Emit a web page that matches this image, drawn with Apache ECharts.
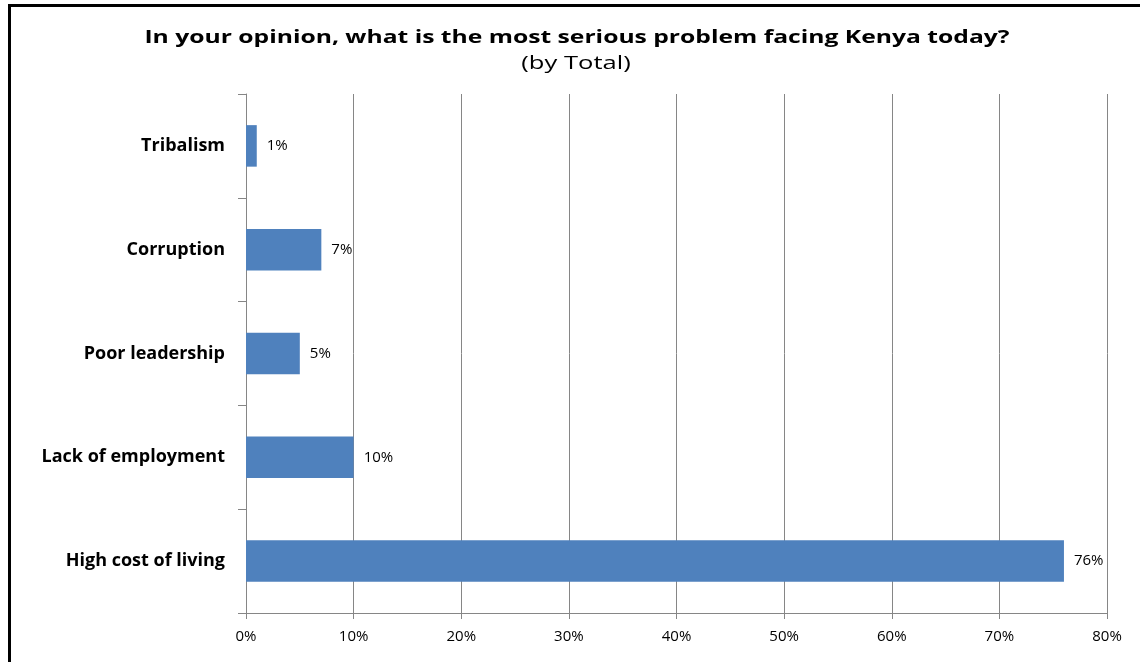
<!DOCTYPE html>
<html>
<head>
<meta charset="utf-8">
<script src="https://cdn.jsdelivr.net/npm/echarts@6/dist/echarts.min.js"></script>
<style>
  html, body { margin: 0; padding: 0; background: #fff; }
  #frame { position: absolute; left: 8px; top: 4px; width: 1140px; height: 670px;
           border-left: 3px solid #000; border-top: 3px solid #000; }
  #chart { position: absolute; left: 0; top: 0; width: 1140px; height: 662px; }
</style>
</head>
<body>
<div id="chart"></div>
<div id="frame"></div>
<script>
// Survey responses, listed bottom to top as drawn on the category axis
const categories = ['High cost of living', 'Lack of employment', 'Poor leadership', 'Corruption', 'Tribalism'];
const shares = [76, 10, 5, 7, 1];
const xTicks = [0, 10, 20, 30, 40, 50, 60, 70, 80];
const titleText = 'In your opinion, what is the most serious problem facing Kenya today?';
const subtitleText = '(by Total)';

const chart = echarts.init(document.getElementById('chart'));
const font = '"Open Sans", "Liberation Sans", sans-serif';

chart.setOption({
  animation: false,
  // Heading drawn as wide, horizontally stretched text
  graphic: [
    {
      type: 'text', x: 577, y: 38, scaleX: 1.37,
      style: { text: titleText, font: 'bold 18px ' + font, fill: '#000',
               textAlign: 'center', textVerticalAlign: 'middle' }
    },
    {
      type: 'text', x: 576, y: 64, scaleX: 1.42,
      style: { text: subtitleText, font: '18px ' + font, fill: '#000',
               textAlign: 'center', textVerticalAlign: 'middle' }
    }
  ],
  grid: { left: 246, right: 33, top: 94, bottom: 49, containLabel: false },
  xAxis: {
    type: 'value',
    min: xTicks[0],
    max: xTicks[xTicks.length - 1],
    interval: 10,
    axisLine: { show: true, lineStyle: { color: '#868686', width: 1 } },
    axisTick: { show: true, length: 6, lineStyle: { color: '#868686' } },
    axisLabel: { formatter: v => v + '%', fontFamily: font, fontSize: 15, color: '#000', margin: 16 },
    splitLine: { show: true, lineStyle: { color: '#868686', width: 1 } }
  },
  yAxis: {
    type: 'category',
    data: categories,
    axisLine: { show: true, lineStyle: { color: '#868686', width: 1 } },
    axisTick: { show: true, length: 8, lineStyle: { color: '#868686' } },
    axisLabel: { fontFamily: font, fontSize: 18, fontWeight: 'bold', color: '#000', margin: 21 }
  },
  series: [{
    type: 'bar',
    data: shares,
    barWidth: '40%',
    itemStyle: { color: '#4F81BD' },
    label: {
      show: true,
      position: 'right',
      distance: 10,
      formatter: p => p.value + '%',
      fontFamily: font,
      fontSize: 15,
      color: '#000'
    }
  }]
});
</script>
</body>
</html>
